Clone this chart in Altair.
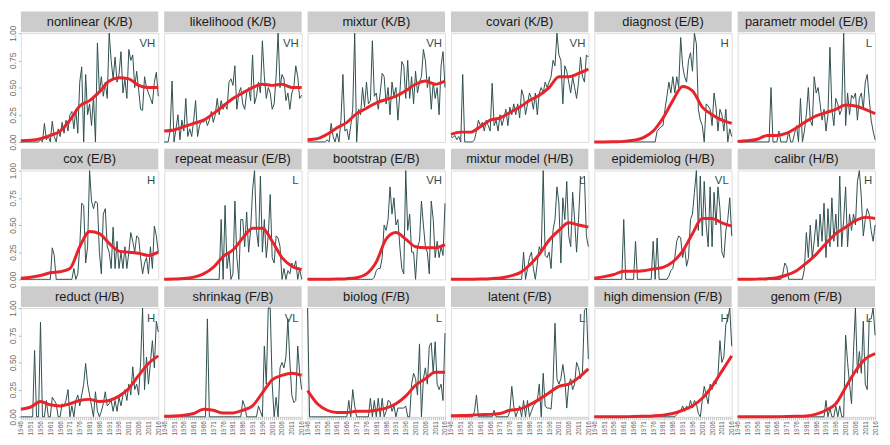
import altair as alt
import pandas as pd

years = list(range(1946, 2017))
smooth_years = [1946, 1951, 1956, 1961, 1966, 1971, 1976, 1981, 1986, 1991, 1996, 2001, 2006, 2011, 2016]
label_years = [1946, 1951, 1956, 1961, 1966, 1971, 1976, 1981, 1986, 1991, 1996, 2001, 2006, 2011, 2016]

titles = ["nonlinear (K/B)", "likelihood (K/B)", "mixtur (K/B)", "covari (K/B)", "diagnost (E/B)", "parametr model (E/B)",
          "cox (E/B)", "repeat measur (E/B)", "bootstrap (E/B)", "mixtur model (H/B)", "epidemiolog (H/B)", "calibr (H/B)",
          "reduct (H/B)", "shrinkag (F/B)", "biolog (F/B)", "latent (F/B)", "high dimension (F/B)", "genom (F/B)"]
levels = ["VH", "VH", "VH", "VH", "H", "L",
          "H", "L", "VH", "L", "VL", "H",
          "H", "VL", "L", "L", "H", "L"]

nonlinear_raw = [0, 0, 0, 0, 0, 0, 0, 0, 0, 0,
                 0.02, 0.0, 0.17, 0.02, 0.05, 0.0, 0.19, 0.05, 0.0, 0.12,
                 0.05, 0.18, 0.08, 0.2, 0.1, 0.25, 0.28, 0.12, 0.3, 0.08,
                 0.55, 0.69, 0.0, 0.62, 0.25, 0.35, 0.15, 0.42, 0.0, 0.91,
                 0.45, 0.6, 0.42, 0.55, 0.4, 1.0, 0.75, 0.58, 0.78, 0.55,
                 0.62, 0.83, 0.45, 0.58, 0.4, 0.85, 0.75, 0.8, 0.5, 0.65,
                 0.48, 0.3, 0.29, 0.6, 0.5, 0.45, 0.4, 0.35, 0.55, 0.64,
                 0.42]
likelihood_raw = [0.0, 0.0, 0.0, 0.1, 0.56, 0.0, 0.12, 0.25, 0.02, 0.2,
                  0.1, 0.4, 0.05, 0.12, 0.05, 0.2, 0.38, 0.05, 0.15, 0.2,
                  0.18, 0.22, 0.15, 0.2, 0.28, 0.18, 0.25, 0.4, 0.25, 0.38,
                  0.3, 0.35, 0.3, 0.55, 0.58, 0.52, 0.7, 0.3, 0.45, 0.5,
                  0.35, 0.3, 0.45, 0.5, 0.38, 0.8, 0.35, 0.42, 0.55, 0.45,
                  0.93, 0.6, 0.4, 0.5, 0.45, 0.3, 0.35, 0.6, 1.0, 0.5,
                  0.62, 0.58, 0.38, 0.45, 0.3, 0.45, 0.5, 0.7, 0.6, 0.4,
                  0.43]
mixtur_raw = [0, 0, 0, 0, 0, 0, 0, 0, 0, 0,
              0.02, 0.0, 0.17, 0.05, 0.0, 0.08, 0.0, 0.2, 0.62, 0.1,
              0.12, 0.02, 0.15, 0.3, 1.0, 0.0, 0.3, 0.25, 0.5, 0.32,
              0.55, 0.35, 0.38, 0.93, 0.42, 0.45, 0.3, 0.45, 0.63, 0.6,
              0.35, 0.5, 0.25, 0.55, 0.42, 0.5, 0.2, 0.45, 0.74, 0.7,
              0.4, 0.75, 0.4, 0.6, 0.35, 0.65, 0.45, 0.55, 0.6, 0.85,
              0.75, 0.5, 0.6, 0.3, 0.55, 0.4, 0.5, 0.25, 0.7, 0.83,
              0.5]
covari_raw = [0.05, 0.04, 0.06, 0.02, 0.05, 0.0, 0.62, 0.0, 0.0, 0.0,
              0.0, 0.0, 0.02, 0.1, 0.2, 0.15, 0.18, 0.1, 0.2, 0.15,
              0.1, 0.54, 0.15, 0.2, 0.1, 0.25, 0.15, 0.22, 0.3, 0.15,
              0.32, 0.25, 0.35, 0.25, 0.35, 0.22, 0.48, 0.42, 0.25, 0.35,
              0.45, 0.4, 0.3, 0.45, 0.25, 0.45, 0.5, 0.45, 0.55, 0.5,
              0.55, 0.6, 0.75, 0.7, 1.0, 0.8, 0.75, 0.35, 0.7, 0.65,
              0.55, 0.45, 0.6, 0.5, 0.4, 0.55, 0.78, 0.6, 0.55, 0.8,
              0.78]
diagnost_raw = [0, 0, 0, 0, 0, 0, 0, 0, 0, 0,
                0, 0, 0, 0, 0, 0, 0, 0, 0, 0,
                0, 0, 0, 0, 0, 0, 0, 0, 0, 0,
                0.0, 0.0, 0.1, 0.12, 0.14, 0.15, 0.3, 0.42, 0.55, 0.45,
                0.6, 0.45, 0.6, 0.5, 0.96, 0.7, 0.6, 0.55, 0.75, 0.82,
                0.65, 1.0, 0.9, 0.3, 0.2, 0.15, 0.0, 0.35, 0.33, 0.3,
                0.15, 0.45, 0.32, 0.1, 0.3, 0.25, 0.1, 0.3, 0.0, 0.12,
                0.05]
parametr_raw = [0, 0, 0, 0, 0, 0, 0, 0, 0, 0,
                0, 0, 0, 0, 0, 0, 0.0, 0.5, 0.0, 0.0,
                0.0, 0.1, 0.0, 0.0, 0.0, 0.0, 0.1, 0.0, 0.0, 0.08,
                0.15, 0.0, 0.4, 0.0, 0.1, 0.25, 0.5, 0.2, 0.15, 0.6,
                0.45, 0.5, 0.35, 0.2, 0.3, 0.1, 0.25, 0.87, 0.3, 0.15,
                0.4, 0.35, 0.25, 0.3, 1.0, 0.15, 0.45, 0.25, 0.43, 0.4,
                0.45, 0.2, 0.4, 0.45, 0.3, 0.55, 0.62, 0.4, 0.2, 0.1,
                0.02]
cox_raw = [0, 0, 0, 0, 0, 0, 0, 0, 0, 0,
           0, 0, 0, 0, 0, 0, 0.29, 0.22, 0.0, 0.0,
           0, 0, 0, 0, 0, 0, 0, 0.1, 0.0, 0.05,
           0.3, 0.7, 0.68, 0.15, 0.3, 1.0, 0.72, 0.65, 0.72, 0.7,
           0.25, 0.05, 0.6, 0.65, 0.3, 0.25, 0.1, 0.48, 0.1, 0.35,
           0.1, 0.25, 0.1, 0.3, 0.1, 0.25, 0.43, 0.35, 0.25, 0.4,
           0.38, 0.2, 0.05, 0.15, 0.2, 0.05, 0.3, 0.1, 0.49, 0.4,
           0.25]
repeat_raw = [0, 0, 0, 0, 0, 0, 0, 0, 0, 0,
              0, 0, 0, 0, 0, 0, 0, 0, 0, 0,
              0, 0, 0, 0, 0, 0, 0, 0, 0.0, 0.55,
              0.0, 0.68, 0.1, 0.25, 0.0, 0.05, 0.72, 0.2, 0.0, 0.55,
              0.55, 0.3, 0.62, 0.25, 0.45, 0.82, 1.0, 0.45, 0.3, 0.95,
              0.25, 0.55, 0.2, 0.4, 0.78, 0.2, 0.15, 0.4, 0.38, 0.3,
              0.0, 0.1, 0.0, 0.08, 0.05, 0.15, 0.1, 0.17, 0.0, 0.1,
              0.0]
bootstrap_raw = [0, 0, 0, 0, 0, 0, 0, 0, 0, 0,
                 0, 0, 0, 0, 0, 0, 0, 0, 0, 0,
                 0, 0, 0, 0, 0, 0, 0, 0, 0, 0,
                 0, 0, 0, 0, 0.02, 0.08, 0.1, 0.1, 0.2, 0.5,
                 0.45, 0.55, 0.85, 0.6, 0.75, 0.5, 0.55, 0.3, 0.1, 0.05,
                 1.0, 0.45, 0.6, 0.25, 0.25, 0.0, 0.3, 0.35, 0.72, 0.5,
                 0.3, 0.25, 0.05, 0.72, 0.55, 0.2, 0.35, 0.2, 0.3, 0.22,
                 0.7]
mixmodel_raw = [0, 0, 0, 0, 0, 0, 0, 0, 0, 0,
                0, 0, 0, 0, 0, 0, 0, 0, 0, 0,
                0, 0, 0, 0, 0, 0, 0, 0, 0, 0,
                0, 0, 0, 0, 0, 0, 0.0, 0.25, 0.0, 0.1,
                0.2, 0.25, 0.1, 0.0, 0.15, 0.3, 0.25, 1.0, 0.22, 0.2,
                0.25, 0.1, 0.45, 0.55, 0.85, 0.7, 0.15, 0.75, 0.55, 0.9,
                0.4, 0.3, 0.8, 0.55, 0.25, 0.55, 0.93, 0.93, 0.95, 0.4,
                0.3]
epidemiolog_raw = [0, 0, 0, 0, 0, 0, 0, 0, 0, 0,
                   0, 0, 0, 0, 0, 0.55, 0.0, 0.0, 0.0, 0.0,
                   0.0, 0.35, 0.0, 0, 0, 0, 0, 0, 0, 0.0,
                   0.35, 0.0, 0.38, 0.0, 0, 0, 0, 0, 0.03, 0.08,
                   0.1, 0.2, 0.35, 0.4, 0.38, 0.2, 0.3, 0.12, 0.2, 0.55,
                   0.6, 0.8, 1.0, 0.45, 0.95, 0.4, 0.9, 0.5, 0.3, 0.85,
                   0.3, 0.8, 0.5, 0.85, 0.65, 0.25, 0.2, 0.45, 0.55, 0.75,
                   0.4]
calibr_raw = [0, 0, 0, 0, 0, 0, 0, 0, 0, 0,
              0, 0, 0, 0, 0, 0, 0, 0, 0, 0,
              0, 0, 0, 0.05, 0.15, 0.12, 0.0, 0, 0, 0,
              0, 0, 0, 0, 0.1, 0.43, 0.2, 0.5, 0.2, 0.35,
              0.55, 0.3, 0.6, 0.35, 0.7, 0.2, 0.65, 0.3, 0.75, 0.35,
              0.6, 0.3, 0.95, 0.3, 0.55, 0.85, 0.3, 0.6, 0.45, 0.6,
              0.5, 0.9, 1.0, 0.75, 0.4, 0.55, 0.65, 0.6, 0.45, 0.35,
              0.5]
reduct_raw = [0, 0, 0, 0, 0, 0, 0, 0.61, 0.0, 0.0,
              0.87, 0.0, 0.0, 0.15, 0.0, 0.0, 0.18, 0.15, 0.12, 0.0,
              0.0, 0.12, 0.1, 0.15, 0.25, 0.0, 0.1, 0.0, 0.15, 0.2,
              0.1, 0.2, 0.3, 0.49, 0.3, 0.2, 0.1, 0.0, 0.23, 0.05,
              0.0, 0.05, 0.12, 0.23, 0.1, 0.12, 0.15, 0.05, 0.15, 0.05,
              0.18, 0.1, 0.2, 0.25, 0.15, 0.3, 0.2, 0.46, 0.25, 0.3,
              0.2, 0.5, 1.0, 0.25, 0.55, 0.3, 0.5, 0.7, 0.45, 0.88,
              0.78]
shrinkag_raw = [0, 0, 0, 0, 0, 0, 0, 0, 0, 0,
                0, 0, 0, 0, 0, 0, 0, 0, 0, 0,
                0, 0.0, 0.9, 0.0, 0, 0, 0, 0, 0, 0,
                0, 0, 0, 0, 0, 0, 0, 0, 0, 0.0,
                0.15, 0.1, 0.0, 0, 0, 0, 0, 0, 0.1, 0.05,
                0.0, 0.65, 0.3, 1.0, 1.0, 0.3, 0.0, 0.18, 0.0, 0.45,
                0.5, 0.45, 0.55, 0.9, 0.5, 0.2, 0.13, 0.15, 0.65, 0.4,
                0.25]
biolog_raw = [1.0, 0, 0, 0, 0, 0, 0, 0, 0, 0,
              0, 0, 0, 0, 0, 0, 0, 0, 0, 0,
              0.0, 0.15, 0.0, 0.25, 0.1, 0.0, 0, 0, 0, 0,
              0.0, 0.0, 0.17, 0.0, 0.15, 0.0, 0.17, 0.0, 0.17, 0.0,
              0.05, 0.15, 0.14, 0.05, 0.1, 0.0, 0.08, 0.08, 0.08, 0.08,
              0.1, 0.0, 0.0, 0.3, 0.4, 0.35, 0.2, 0.67, 0.0, 0.35,
              0.45, 0.3, 0.65, 0.68, 0.4, 0.69, 0.3, 0.25, 0.3, 0.15,
              0.77]
latent_raw = [0, 0, 0, 0, 0, 0, 0, 0, 0, 0,
              0.0, 0.0, 0.05, 0.2, 0.0, 0, 0, 0, 0, 0,
              0.0, 0.0, 0.06, 0.0, 0, 0, 0, 0, 0, 0,
              0.05, 0.28, 0.1, 0.0, 0.05, 0.1, 0.0, 0.15, 0.0, 0.15,
              0.0, 0.05, 0.1, 0.12, 0.15, 0.3, 0.0, 0.4, 0.1, 0.08,
              0.08, 0.07, 0.3, 0.86, 0.35, 0.3, 0.35, 0.48, 0.35, 0.08,
              0.3, 0.35, 0.25, 0.3, 0.5, 0.45, 0.35, 0.4, 0.98, 1.0,
              0.53]
highdim_raw = [0, 0, 0, 0, 0, 0, 0, 0, 0, 0,
               0, 0, 0, 0, 0, 0, 0, 0, 0, 0,
               0, 0, 0, 0, 0, 0, 0, 0, 0, 0,
               0, 0, 0, 0, 0, 0, 0, 0, 0, 0,
               0, 0, 0.02, 0.04, 0.05, 0.1, 0.05, 0.1, 0.07, 0.15,
               0.08, 0.15, 0.12, 0.03, 0.0, 0.15, 0.28, 0.2, 0.12, 0.3,
               0.25, 0.33, 0.3, 0.38, 0.7, 0.5, 0.55, 0.85, 0.9, 1.0,
               0.65]
genom_raw = [0, 0, 0, 0, 0, 0, 0, 0, 0, 0,
             0, 0, 0, 0, 0, 0, 0, 0, 0, 0,
             0, 0, 0, 0, 0, 0, 0, 0, 0, 0,
             0, 0, 0, 0, 0, 0, 0, 0, 0, 0,
             0, 0, 0, 0, 0.0, 0.15, 0.0, 0.08, 0.0, 0.0,
             0.1, 0.0, 0.1, 0.0, 0.0, 0.75, 0.5, 0.3, 0.12, 0.6,
             1.0, 0.4, 0.6, 0.4, 0.88, 0.3, 0.25, 0.9, 0.9, 1.0,
             0.75]

nonlinear_smooth = [0.01, 0.015, 0.03, 0.06, 0.1, 0.2, 0.33, 0.38, 0.46, 0.56, 0.59, 0.58, 0.52, 0.5, 0.5]
likelihood_smooth = [0.1, 0.11, 0.14, 0.17, 0.2, 0.26, 0.33, 0.4, 0.45, 0.5, 0.53, 0.52, 0.53, 0.5, 0.5]
mixtur_smooth = [0.02, 0.03, 0.07, 0.13, 0.18, 0.26, 0.31, 0.36, 0.39, 0.42, 0.47, 0.53, 0.56, 0.53, 0.56]
covari_smooth = [0.07, 0.09, 0.09, 0.14, 0.2, 0.22, 0.27, 0.32, 0.38, 0.43, 0.5, 0.6, 0.6, 0.63, 0.67]
diagnost_smooth = [0.0, 0.0, 0.002, 0.005, 0.015, 0.04, 0.1, 0.22, 0.38, 0.51, 0.47, 0.32, 0.25, 0.2, 0.17]
parametr_smooth = [0.005, 0.01, 0.025, 0.06, 0.06, 0.08, 0.13, 0.19, 0.24, 0.27, 0.3, 0.34, 0.33, 0.3, 0.26]
cox_smooth = [0.01, 0.02, 0.035, 0.06, 0.07, 0.1, 0.3, 0.44, 0.42, 0.33, 0.26, 0.25, 0.24, 0.22, 0.25]
repeat_smooth = [0.0, 0.003, 0.007, 0.02, 0.05, 0.11, 0.21, 0.27, 0.38, 0.47, 0.47, 0.35, 0.2, 0.12, 0.09]
bootstrap_smooth = [0.0, 0.0, 0.001, 0.003, 0.006, 0.015, 0.05, 0.16, 0.37, 0.43, 0.37, 0.3, 0.29, 0.29, 0.32]
mixmodel_smooth = [0.0, 0.0, 0.001, 0.003, 0.006, 0.012, 0.03, 0.06, 0.13, 0.23, 0.36, 0.45, 0.52, 0.5, 0.48]
epidemiolog_smooth = [0.01, 0.025, 0.045, 0.075, 0.075, 0.08, 0.095, 0.11, 0.16, 0.26, 0.42, 0.56, 0.56, 0.52, 0.49]
calibr_smooth = [0.0, 0.0, 0.002, 0.006, 0.015, 0.04, 0.08, 0.15, 0.23, 0.33, 0.42, 0.48, 0.54, 0.57, 0.56]
reduct_smooth = [0.07, 0.09, 0.14, 0.11, 0.1, 0.12, 0.15, 0.16, 0.14, 0.15, 0.19, 0.26, 0.38, 0.49, 0.56]
shrinkag_smooth = [0.005, 0.008, 0.015, 0.03, 0.07, 0.06, 0.035, 0.035, 0.06, 0.1, 0.22, 0.34, 0.38, 0.4, 0.38]
biolog_smooth = [0.24, 0.12, 0.06, 0.04, 0.04, 0.05, 0.05, 0.06, 0.08, 0.12, 0.19, 0.29, 0.35, 0.41, 0.41]
latent_smooth = [0.01, 0.012, 0.015, 0.02, 0.022, 0.03, 0.06, 0.07, 0.11, 0.16, 0.22, 0.28, 0.3, 0.36, 0.44]
highdim_smooth = [0.0, 0.0, 0.0, 0.001, 0.002, 0.004, 0.008, 0.015, 0.03, 0.06, 0.1, 0.17, 0.28, 0.42, 0.56]
genom_smooth = [0.0, 0.0, 0.0, 0.0, 0.001, 0.002, 0.004, 0.008, 0.025, 0.06, 0.12, 0.27, 0.42, 0.53, 0.58]

raw_series = [nonlinear_raw, likelihood_raw, mixtur_raw, covari_raw, diagnost_raw, parametr_raw,
              cox_raw, repeat_raw, bootstrap_raw, mixmodel_raw, epidemiolog_raw, calibr_raw,
              reduct_raw, shrinkag_raw, biolog_raw, latent_raw, highdim_raw, genom_raw]
smooth_series = [nonlinear_smooth, likelihood_smooth, mixtur_smooth, covari_smooth, diagnost_smooth, parametr_smooth,
                 cox_smooth, repeat_smooth, bootstrap_smooth, mixmodel_smooth, epidemiolog_smooth, calibr_smooth,
                 reduct_smooth, shrinkag_smooth, biolog_smooth, latent_smooth, highdim_smooth, genom_smooth]

W, H, STRIP = 139, 110, 22
FONT = "Liberation Sans"
LINE_COLOR = "#2f4f4f"
RED = "#e8242a"
AXIS_LABEL = "#6b6b6b"
TICK = "#b5b5b5"


def make_panel(i):
    row, col = divmod(i, 6)
    raw_df = pd.DataFrame({"year": years, "value": raw_series[i]})
    sm_df = pd.DataFrame({"year": smooth_years, "value": smooth_series[i]})
    lab_df = pd.DataFrame({"title": [titles[i]], "level": [levels[i]]})

    if row == 2:
        x_axis = alt.Axis(
            title=None, labelAngle=270, labelFontSize=6.5, labelColor=AXIS_LABEL,
            labelExpr="indexof([" + ",".join(str(y) for y in label_years) + "], datum.value) >= 0 ? datum.label : ''",
            tickSize=3, tickColor=TICK, tickWidth=0.8, domain=False, grid=False,
            labelOverlap=False, labelPadding=1, labelFont=FONT,
        )
    else:
        x_axis = None
    if col == 0:
        y_axis = alt.Axis(
            title=None, values=[0, 0.25, 0.5, 0.75, 1.0], format=".2f", labelAngle=270,
            labelFontSize=8.5, labelColor=AXIS_LABEL, tickSize=2.5, tickColor=TICK,
            domain=False, grid=False, labelOverlap=False, labelPadding=1, labelFont=FONT,
        )
    else:
        y_axis = None

    xenc = alt.X("year:O", scale=alt.Scale(domain=years, padding=0), axis=x_axis)
    yenc = alt.Y("value:Q", scale=alt.Scale(domain=[0, 1], nice=False), axis=y_axis)

    strip = alt.Chart(lab_df).mark_rect(color="#cccccc").encode(
        x=alt.value(0), x2=alt.value(W), y=alt.value(-STRIP), y2=alt.value(-1)
    )
    strip_text = alt.Chart(lab_df).mark_text(
        fontSize=13, font=FONT, color="#1a1a1a", baseline="middle", align="center"
    ).encode(text="title:N", x=alt.value(W / 2), y=alt.value(-STRIP / 2 - 0.5))
    corner = alt.Chart(lab_df).mark_text(
        fontSize=11.5, font=FONT, color=LINE_COLOR, baseline="top", align="right"
    ).encode(text="level:N", x=alt.value(W - 3), y=alt.value(5))
    raw_line = alt.Chart(raw_df).mark_line(color=LINE_COLOR, strokeWidth=1).encode(x=xenc, y=yenc)
    sm_line = alt.Chart(sm_df).mark_line(color=RED, strokeWidth=3, interpolate="monotone").encode(x=xenc, y=yenc)

    return alt.layer(strip, strip_text, corner, raw_line, sm_line).properties(width=W, height=H)


panels = [make_panel(i) for i in range(18)]

chart = alt.concat(
    *panels, columns=6, spacing={"row": 29, "column": 6}, bounds="flush"
).properties(
    padding={"left": 0, "top": 0, "right": 0, "bottom": 0}
).configure_view(
    stroke="#b3b3b3", strokeWidth=1
).configure(
    font=FONT, background="white"
)

chart.save("out.html", embed_options={"renderer": "svg", "actions": False})
